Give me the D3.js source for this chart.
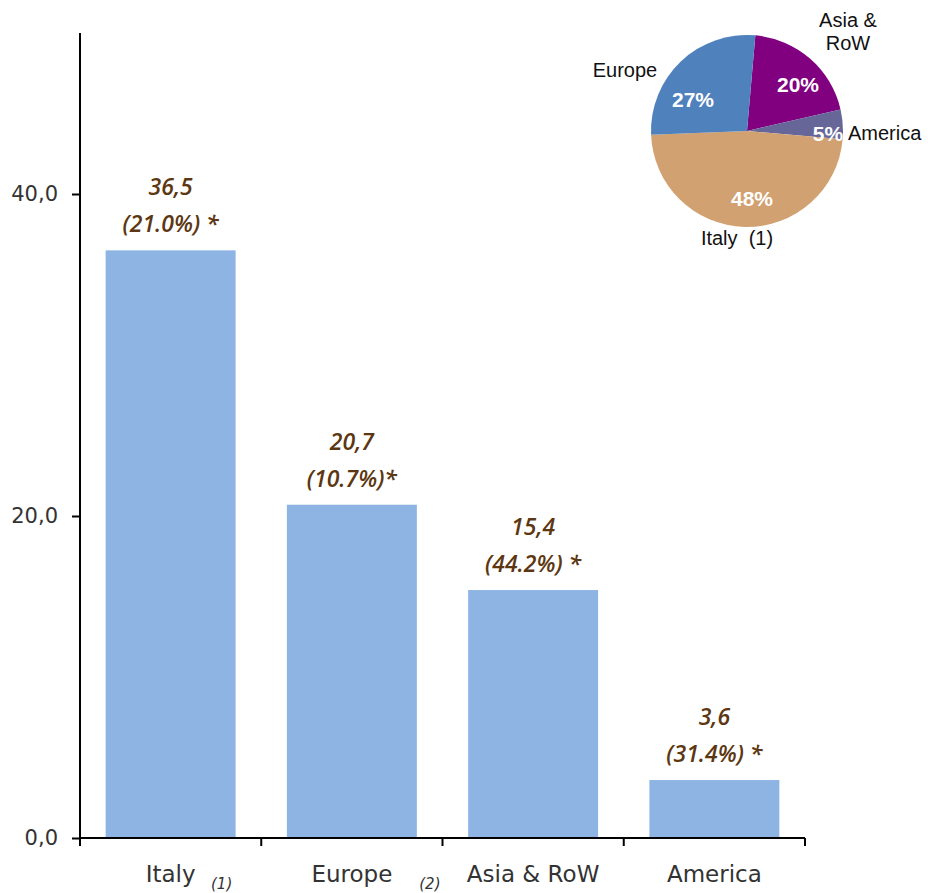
<!DOCTYPE html>
<html>
<head>
<meta charset="utf-8">
<script src="https://cdn.jsdelivr.net/npm/d3@7"></script>
<style>
  html, body { margin: 0; padding: 0; background: #fff; }
  svg { display: block; }
</style>
</head>
<body>
<svg id="chart" width="928" height="893"></svg>
<script>
// Revenue by area (bar chart) and share of total (pie inset)
const categories = ["Italy", "Europe", "Asia & RoW", "America"];
const footnotes = ["(1)", "(2)", "", ""];
const values = [36.5, 20.7, 15.4, 3.6];
const valueLabels = ["36,5", "20,7", "15,4", "3,6"];
const growthLabels = ["(21.0%) *", "(10.7%)*", "(44.2%) *", "(31.4%) *"];
const yTicks = [0, 20, 40];
const yTickLabels = ["0,0", "20,0", "40,0"];

const pieCategories = ["Asia & RoW", "America", "Italy", "Europe"];
const pieShares = [20, 5, 48, 27];
const pieOuterLabels = [["Asia &", "RoW"], ["America"], ["Italy\u00A0\u00A0(1)"], ["Europe"]];

const svg = d3.select("#chart");
const margin = { left: 80, right: 123, top: 33, bottom: 55 };
const W = 928, H = 893;
const x0 = margin.left, x1 = W - margin.right;
const yBase = H - margin.bottom;

const x = d3.scaleBand().domain(categories).range([x0, x1]).paddingInner(0.283).paddingOuter(0.1415);
const y = d3.scaleLinear().domain([0, 50]).range([yBase, margin.top]);

// bars
svg.append("g").selectAll("rect").data(categories).join("rect")
  .attr("x", d => x(d))
  .attr("y", (d, i) => y(values[i]))
  .attr("width", x.bandwidth())
  .attr("height", (d, i) => y(0) - y(values[i]))
  .attr("fill", "#8EB4E3");

// value labels above bars
const lab = svg.append("g")
  .attr("font-family", "'Open Sans', Lato, sans-serif")
  .attr("font-style", "italic")
  .attr("font-weight", 600)
  .attr("font-size", 23)
  .attr("fill", "#5C3712")
  .attr("text-anchor", "middle");
categories.forEach((c, i) => {
  const cx = x(c) + x.bandwidth() / 2;
  lab.append("text").attr("x", cx).attr("y", y(values[i]) - 63).attr("dy", "0.35em").text(valueLabels[i]);
  lab.append("text").attr("x", cx).attr("y", y(values[i]) - 26).attr("dy", "0.35em").text(growthLabels[i]);
});

// y axis
const yAxis = svg.append("g")
  .attr("transform", `translate(${x0},0)`)
  .call(d3.axisLeft(y).tickValues(yTicks).tickSize(8).tickPadding(14)
    .tickFormat((d, i) => yTickLabels[i]));
yAxis.select(".domain").attr("d", `M0,${margin.top}V${yBase}`).attr("stroke", "#000").attr("stroke-width", 2);
yAxis.selectAll(".tick line").attr("stroke", "#000").attr("stroke-width", 2);
yAxis.selectAll(".tick text")
  .attr("font-family", "'DejaVu Sans', sans-serif").attr("font-size", 21).attr("fill", "#333");

// x axis with boundary ticks between categories
const xAxis = svg.append("g").attr("transform", `translate(0,${yBase})`);
xAxis.append("line").attr("x1", x0).attr("x2", x1).attr("stroke", "#000").attr("stroke-width", 2);
const edges = [x0].concat(categories.slice(1).map(c => x(c) - (x.step() - x.bandwidth()) / 2), [x1]);
xAxis.selectAll("line.edge").data(edges).join("line").attr("class", "edge")
  .attr("x1", d => d).attr("x2", d => d).attr("y1", 0).attr("y2", 8)
  .attr("stroke", "#000").attr("stroke-width", 2);

const footOffset = [51, 78, 0, 0];
const xl = xAxis.append("g").attr("font-family", "'DejaVu Sans', sans-serif").attr("fill", "#333");
categories.forEach((c, i) => {
  const cx = x(c) + x.bandwidth() / 2;
  xl.append("text").attr("x", cx).attr("y", 44).attr("text-anchor", "middle")
    .attr("font-size", 23).text(c);
  if (footnotes[i]) {
    xl.append("text").attr("x", cx + footOffset[i]).attr("y", 51).attr("text-anchor", "middle")
      .attr("font-size", 15).attr("font-style", "italic").text(footnotes[i]);
  }
});

// pie inset
const pieColors = ["#800080", "#666699", "#D2A172", "#4F81BD"];
const pc = { x: 747, y: 131 }, r = 96;
const pie = d3.pie().sort(null).value(d => d).startAngle(5 * Math.PI / 180).endAngle(2 * Math.PI + 5 * Math.PI / 180);
const arcs = pie(pieShares);
const arc = d3.arc().innerRadius(0).outerRadius(r);
const pg = svg.append("g").attr("transform", `translate(${pc.x},${pc.y})`);
pg.selectAll("path").data(arcs).join("path").attr("d", arc).attr("fill", (d, i) => pieColors[i]);

const inLabelPos = [[51, -46], [81, 3], [5, 68], [-54, -31]];
pg.selectAll("text.pct").data(arcs).join("text").attr("class", "pct")
  .attr("x", (d, i) => inLabelPos[i][0]).attr("y", (d, i) => inLabelPos[i][1])
  .attr("dy", "0.35em").attr("text-anchor", "middle")
  .attr("font-family", "'Liberation Sans', Arial, sans-serif").attr("font-weight", "bold")
  .attr("font-size", 21).attr("fill", "#fff")
  .text((d, i) => pieShares[i] + "%");

const outPos = [[101, -111, "middle"], [101, 2, "start"], [-10, 107, "middle"], [-122, -61, "middle"]];
pieOuterLabels.forEach((lines, i) => {
  const t = pg.append("text").attr("x", outPos[i][0]).attr("y", outPos[i][1])
    .attr("text-anchor", outPos[i][2])
    .attr("font-family", "'Liberation Sans', Arial, sans-serif").attr("font-size", 20).attr("fill", "#111");
  lines.forEach((ln, j) => {
    t.append("tspan").attr("x", outPos[i][0]).attr("dy", j === 0 ? "0.35em" : "1.15em").text(ln);
  });
});
</script>
</body>
</html>
